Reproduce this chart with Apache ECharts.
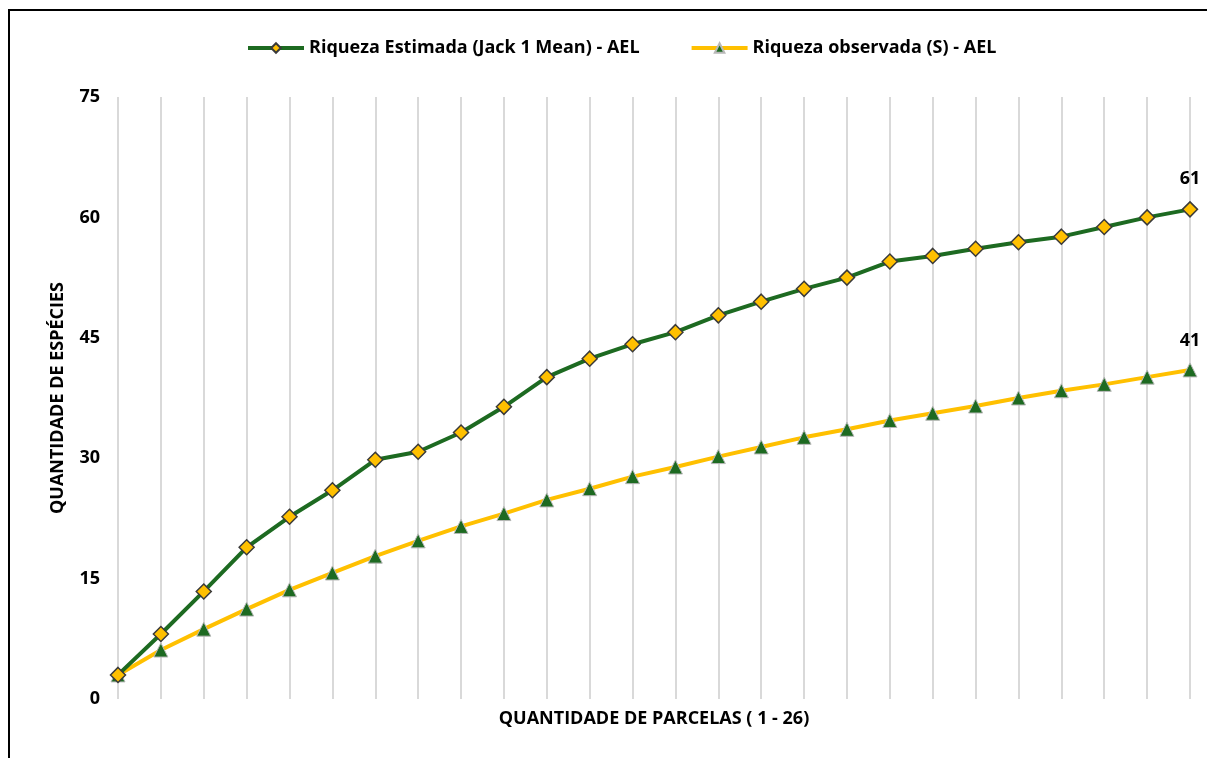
<!DOCTYPE html>
<html>
<head>
<meta charset="utf-8">
<script src="https://cdn.jsdelivr.net/npm/echarts@6/dist/echarts.min.js"></script>
<style>
  html, body { margin: 0; padding: 0; background: #ffffff; }
  #chart { width: 1207px; height: 758px; }
</style>
</head>
<body>
<div id="chart"></div>
<script>
// Plots 1 to 26
const parcelas = Array.from({ length: 26 }, (_, i) => String(i + 1));

// Estimated richness (Jack 1 mean)
const riquezaEstimada = [3.0, 8.1, 13.4, 18.9, 22.7, 26.0, 29.8, 30.8, 33.2, 36.4,
  40.1, 42.4, 44.2, 45.7, 47.8, 49.5, 51.1, 52.5, 54.5, 55.2,
  56.1, 56.9, 57.6, 58.8, 60.0, 61];

// Observed richness (S)
const riquezaObservada = [3.0, 6.1, 8.7, 11.2, 13.6, 15.7, 17.8, 19.7, 21.5, 23.1,
  24.8, 26.2, 27.7, 28.9, 30.2, 31.4, 32.6, 33.6, 34.7, 35.6,
  36.5, 37.5, 38.4, 39.2, 40.1, 41];

const yTicks = [0, 15, 30, 45, 60, 75];

const FONT = '"Open Sans", Lato, sans-serif';
const FONT_SIZE = 18;
const GREEN = '#1d6a21';
const YELLOW = '#ffc000';

// Show the value only on the final point of each series
function withEndLabel(values) {
  return values.map((v, i) => i === values.length - 1
    ? { value: v, label: { show: true } }
    : v);
}

const boldText = { fontFamily: FONT, fontWeight: 'bold', fontSize: FONT_SIZE, color: '#000000' };

const chart = echarts.init(document.getElementById('chart'));

chart.setOption({
  animation: false,
  backgroundColor: '#ffffff',
  textStyle: { fontFamily: FONT },
  graphic: [
    {
      type: 'polyline',
      shape: { points: [[9, 760], [9, 10], [1210, 10]] },
      style: { stroke: '#000000', lineWidth: 2, fill: null },
      silent: true
    }
  ],
  legend: {
    top: 34,
    left: 241,
    itemGap: 50,
    itemWidth: 56,
    itemHeight: 12,
    lineStyle: { width: 4 },
    textStyle: boldText,
    data: ['Riqueza Estimada (Jack 1 Mean) - AEL', 'Riqueza observada (S) - AEL']
  },
  grid: { left: 118, right: 17, top: 97, bottom: 59, containLabel: false },
  xAxis: {
    type: 'category',
    data: parcelas,
    boundaryGap: false,
    name: 'QUANTIDADE DE PARCELAS ( 1 - 26)',
    nameLocation: 'middle',
    nameGap: 11,
    nameTextStyle: boldText,
    axisLine: { show: false },
    axisTick: { show: false },
    axisLabel: { show: false },
    splitLine: { show: true, lineStyle: { color: '#d9d9d9', width: 2 } }
  },
  yAxis: {
    type: 'value',
    min: yTicks[0],
    max: yTicks[yTicks.length - 1],
    interval: yTicks[1] - yTicks[0],
    name: 'QUANTIDADE DE ESPÉCIES',
    nameLocation: 'middle',
    nameGap: 51,
    nameTextStyle: boldText,
    axisLine: { show: false },
    axisTick: { show: false },
    splitLine: { show: false },
    axisLabel: Object.assign({ margin: 18 }, boldText)
  },
  series: [
    {
      name: 'Riqueza Estimada (Jack 1 Mean) - AEL',
      type: 'line',
      data: withEndLabel(riquezaEstimada),
      symbol: 'diamond',
      symbolSize: 15,
      lineStyle: { color: GREEN, width: 4 },
      itemStyle: { color: YELLOW, borderColor: '#3a3a3a', borderWidth: 1.5 },
      label: Object.assign({ show: false, position: 'top', distance: 13 }, boldText),
      z: 3
    },
    {
      name: 'Riqueza observada (S) - AEL',
      type: 'line',
      data: withEndLabel(riquezaObservada),
      symbol: 'triangle',
      symbolSize: 14,
      lineStyle: { color: YELLOW, width: 4 },
      itemStyle: { color: GREEN, borderColor: '#b8b8b8', borderWidth: 1 },
      label: Object.assign({ show: false, position: 'top', distance: 13 }, boldText),
      z: 2
    }
  ]
});
</script>
</body>
</html>
